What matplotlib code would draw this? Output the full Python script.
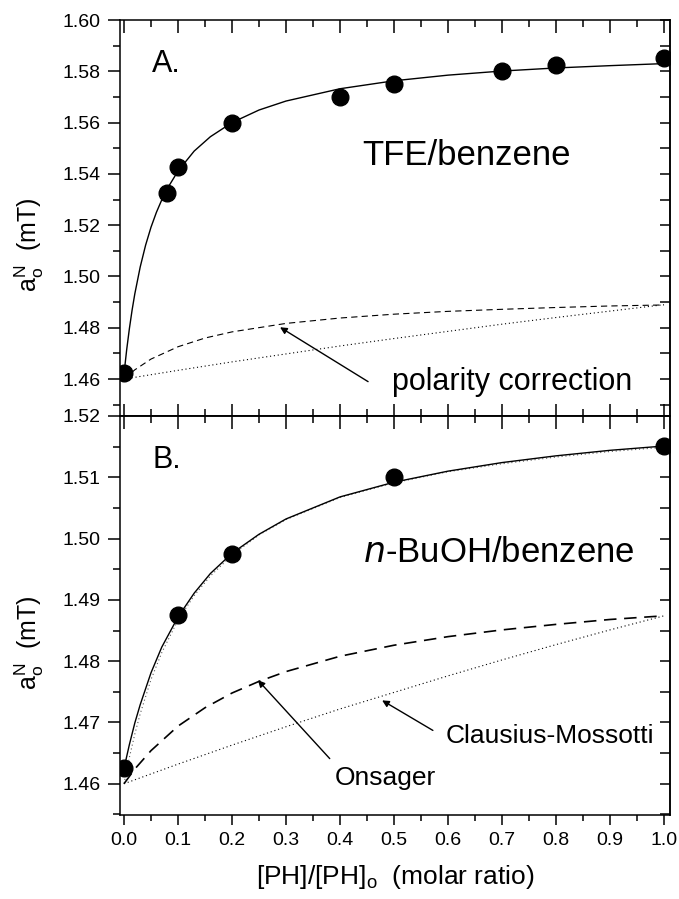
import matplotlib
matplotlib.use("Agg")
import matplotlib.pyplot as plt
from matplotlib.ticker import MultipleLocator, FormatStrFormatter

plt.rcParams['font.family'] = ['Liberation Sans', 'DejaVu Sans']
plt.rcParams['mathtext.default'] = 'regular'
plt.rcParams['lines.scale_dashes'] = False

# ---- panel A: TFE/benzene ----
a_x = [0.0, 0.08, 0.1, 0.2, 0.4, 0.5, 0.7, 0.8, 1.0]
a_y = [1.4625, 1.5325, 1.5425, 1.5600, 1.5700, 1.5750, 1.5800, 1.5825, 1.5850]

a_fit_x = [0.0, 0.005, 0.01, 0.015, 0.02, 0.03, 0.04, 0.05, 0.06, 0.07, 0.08, 0.1,
           0.13, 0.16, 0.2, 0.25, 0.3, 0.4, 0.5, 0.6, 0.7, 0.8, 0.9, 1.0]
a_fit_y = [1.4620, 1.4715, 1.4797, 1.4869, 1.4932, 1.5037, 1.5122, 1.5192, 1.5250,
           1.5299, 1.5342, 1.5411, 1.5489, 1.5545, 1.5600, 1.5649, 1.5684, 1.5732,
           1.5763, 1.5785, 1.5801, 1.5813, 1.5822, 1.5830]

a_ons_x = [0.0, 0.02, 0.05, 0.1, 0.15, 0.2, 0.3, 0.4, 0.5, 0.6, 0.7, 0.8, 0.9, 1.0]
a_ons_y = [1.4600, 1.4636, 1.4678, 1.4726, 1.4760, 1.4784, 1.4817, 1.4838, 1.4853,
           1.4864, 1.4872, 1.4879, 1.4885, 1.4889]

a_cm_x = [0.0, 0.1, 0.2, 0.3, 0.4, 0.5, 0.6, 0.7, 0.8, 0.9, 1.0]
a_cm_y = [1.4600, 1.4634, 1.4667, 1.4698, 1.4729, 1.4758, 1.4786, 1.4814, 1.4840, 1.4865, 1.4890]

# ---- panel B: n-BuOH/benzene ----
b_x = [0.0, 0.1, 0.2, 0.5, 1.0]
b_y = [1.4625, 1.4875, 1.4975, 1.5100, 1.5151]

b_fit_x = [0.0, 0.01, 0.02, 0.03, 0.05, 0.07, 0.1, 0.13, 0.16, 0.2, 0.25, 0.3,
           0.4, 0.5, 0.6, 0.7, 0.8, 0.9, 1.0]
b_fit_y = [1.4625, 1.4664, 1.4699, 1.4729, 1.4781, 1.4823, 1.4872, 1.4911, 1.4943,
           1.4976, 1.5007, 1.5032, 1.5068, 1.5092, 1.5110, 1.5124, 1.5135, 1.5144, 1.5151]

b_corr_x = b_fit_x
b_corr_y = [1.4600, 1.4643, 1.4681, 1.4714, 1.4770, 1.4814, 1.4867, 1.4907, 1.4939,
            1.4973, 1.5006, 1.5031, 1.5067, 1.5091, 1.5109, 1.5122, 1.5133, 1.5142, 1.5149]

b_ons_x = [0.0, 0.02, 0.05, 0.1, 0.15, 0.2, 0.25, 0.3, 0.4, 0.5, 0.6, 0.7, 0.8, 0.9, 1.0]
b_ons_y = [1.4600, 1.4624, 1.4654, 1.4694, 1.4724, 1.4748, 1.4767, 1.4783, 1.4808,
           1.4826, 1.4840, 1.4851, 1.4860, 1.4868, 1.4874]

b_cm_x = [0.0, 0.1, 0.2, 0.3, 0.4, 0.5, 0.6, 0.7, 0.8, 0.9, 1.0]
b_cm_y = [1.4600, 1.4632, 1.4663, 1.4693, 1.4722, 1.4749, 1.4776, 1.4802, 1.4827, 1.4851, 1.4874]

xticks = [0.0, 0.1, 0.2, 0.3, 0.4, 0.5, 0.6, 0.7, 0.8, 0.9, 1.0]

fig = plt.figure(figsize=(6.79, 8.99), dpi=100)
ax1 = fig.add_axes([0.17673, 0.53726, 0.81001, 0.44049])
ax2 = fig.add_axes([0.17673, 0.09344, 0.81001, 0.44383])

dot = (0.8, 2.0)

# panel A curves
ax1.plot(a_fit_x, a_fit_y, color='k', lw=1.0)
ax1.plot(a_ons_x, a_ons_y, color='k', lw=0.8, dashes=(4.5, 3))
ax1.plot(a_cm_x, a_cm_y, color='k', lw=0.8, dashes=dot)
ax1.plot(a_x, a_y, 'o', color='k', ms=12, zorder=5)

# panel B curves
ax2.plot(b_corr_x, b_corr_y, color='0.35', lw=0.8, dashes=dot)
ax2.plot(b_fit_x, b_fit_y, color='k', lw=1.0)
ax2.plot(b_ons_x, b_ons_y, color='k', lw=1.2, dashes=(9, 5.5))
ax2.plot(b_cm_x, b_cm_y, color='k', lw=0.8, dashes=dot)
ax2.plot(b_x, b_y, 'o', color='k', ms=12, zorder=5)

arrow = dict(arrowstyle='-|>', color='k', lw=1.0, mutation_scale=10, shrinkA=0, shrinkB=0)

# annotations panel A
ax1.text(0.052, 1.5797, 'A.', fontsize=22, va='baseline')
ax1.text(0.441, 1.5435, 'TFE/benzene', fontsize=25, va='baseline')
ax1.text(0.496, 1.4558, 'polarity correction', fontsize=22, va='baseline')
ax1.annotate('', xy=(0.289, 1.4802), xytext=(0.452, 1.4590), arrowprops=arrow)

# annotations panel B
ax2.text(0.052, 1.5115, 'B.', fontsize=22, va='baseline')
ax2.text(0.443, 1.4962, r'$\mathit{n}$-BuOH/benzene', fontsize=25, va='baseline')
ax2.text(0.596, 1.4666, 'Clausius-Mossotti', fontsize=19, va='baseline')
ax2.text(0.391, 1.4598, 'Onsager', fontsize=19, va='baseline')
ax2.annotate('', xy=(0.248, 1.4769), xytext=(0.381, 1.4641), arrowprops=arrow)
ax2.annotate('', xy=(0.478, 1.4736), xytext=(0.572, 1.4687), arrowprops=arrow)

# axes limits
for ax in (ax1, ax2):
    ax.set_xlim(-0.0074, 1.0111)
    ax.set_xticks(xticks)
    ax.xaxis.set_minor_locator(MultipleLocator(0.05))
    for s in ax.spines.values():
        s.set_linewidth(1.1)
    ax.yaxis.set_major_formatter(FormatStrFormatter('%.2f'))

ax1.set_ylim(1.4456, 1.600)
ax1.set_yticks([1.46, 1.48, 1.50, 1.52, 1.54, 1.56, 1.58, 1.60])
ax1.yaxis.set_minor_locator(MultipleLocator(0.01))
ax2.set_ylim(1.4549, 1.520)
ax2.set_yticks([1.46, 1.47, 1.48, 1.49, 1.50, 1.51, 1.52])
ax2.yaxis.set_minor_locator(MultipleLocator(0.005))

# left ticks outward
for ax in (ax1, ax2):
    ax.tick_params(axis='y', which='major', direction='out', length=9, width=1.1,
                   labelsize=14, pad=5, left=True, right=False)
    ax.tick_params(axis='y', which='minor', direction='out', length=5, width=1.1,
                   left=True, right=False)

# panel A x ticks: inward on top and bottom, no labels
ax1.tick_params(axis='x', which='major', direction='in', length=9, width=1.1,
                top=True, bottom=True, labelbottom=False)
ax1.tick_params(axis='x', which='minor', direction='in', length=5, width=1.1,
                top=True, bottom=True)

# panel B x ticks: outward at bottom with labels
ax2.tick_params(axis='x', which='major', direction='out', length=7, width=1.1,
                labelsize=14, pad=5, top=False)
ax2.tick_params(axis='x', which='minor', direction='out', length=4, width=1.1, top=False)
top2 = ax2.secondary_xaxis('top')
top2.set_xticks(xticks)
top2.xaxis.set_minor_locator(MultipleLocator(0.05))
top2.tick_params(axis='x', which='major', direction='in', length=9, width=1.1, labeltop=False)
top2.tick_params(axis='x', which='minor', direction='in', length=5, width=1.1)

# right-side inward ticks
r1 = ax1.secondary_yaxis('right')
r1.yaxis.set_major_locator(MultipleLocator(0.01))
r1.tick_params(axis='y', direction='in', length=7, width=1.1, labelright=False)
r2 = ax2.secondary_yaxis('right')
r2.yaxis.set_major_locator(MultipleLocator(0.005))
r2.tick_params(axis='y', direction='in', length=7, width=1.1, labelright=False)
for r in (r1, r2, top2):
    for s in r.spines.values():
        s.set_linewidth(1.1)

ylab = r'a$_o^N$  (mT)'
ax1.set_ylabel(ylab, fontsize=18)
ax2.set_ylabel(ylab, fontsize=18)
ax1.yaxis.set_label_coords(-0.135, 0.432)
ax2.yaxis.set_label_coords(-0.135, 0.431)
ax2.set_xlabel(r'[PH]/[PH]$_o$  (molar ratio)', fontsize=19, labelpad=10)

fig.savefig('out.png', dpi=100)
